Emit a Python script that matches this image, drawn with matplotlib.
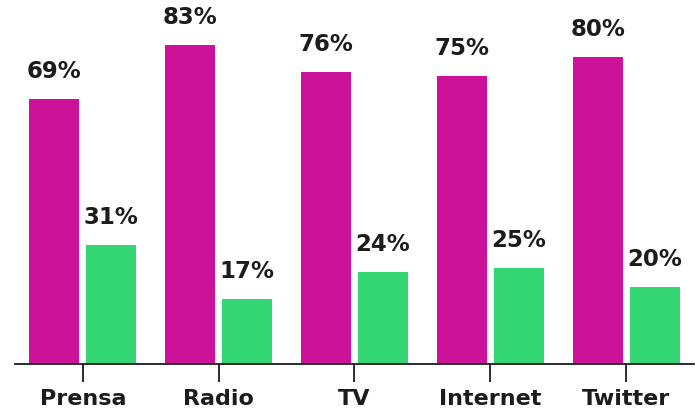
import matplotlib
matplotlib.use("Agg")
import matplotlib.pyplot as plt
import numpy as np

categories = ["Prensa", "Radio", "TV", "Internet", "Twitter"]
serie_a = [69, 83, 76, 75, 80]
serie_b = [31, 17, 24, 25, 20]

col_a = "#CC1299"
col_b = "#33D672"
txt = "#1c1c1c"

W, H = 697, 414
fig = plt.figure(figsize=(W / 100, H / 100), dpi=100)
ax = fig.add_axes([15 / W, 49 / H, (694 - 15) / W, (H - 49) / H])

x = np.arange(len(categories))
bw = 0.368
off = 0.21
ba = ax.bar(x - off, serie_a, bw, color=col_a)
bb = ax.bar(x + off, serie_b, bw, color=col_b)

for bars, vals in ((ba, serie_a), (bb, serie_b)):
    for r, v in zip(bars, vals):
        ax.annotate(f"{v}%", (r.get_x() + r.get_width() / 2, v),
                    xytext=(0, 12), textcoords="offset points",
                    ha="center", va="bottom", fontsize=16.5,
                    fontweight="bold", color=txt, family="DejaVu Sans")

ax.set_xlim(-0.5, 4.5)
ax.set_ylim(0, 95)
ax.set_xticks(x)
ax.set_xticklabels(categories, fontsize=16, fontweight="bold", color=txt)
ax.tick_params(axis="x", length=13, width=1.3, color=txt, pad=4)
ax.set_yticks([])
for s in ("left", "right", "top"):
    ax.spines[s].set_visible(False)
ax.spines["bottom"].set_color(txt)
ax.spines["bottom"].set_linewidth(1.3)

fig.savefig("out.png", dpi=100)
